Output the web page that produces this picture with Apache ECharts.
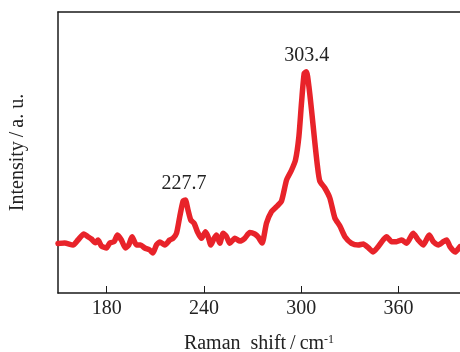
<!DOCTYPE html>
<html><head><meta charset="utf-8">
<script src="https://cdn.jsdelivr.net/npm/echarts@6/dist/echarts.min.js"></script>
<style>html,body{margin:0;padding:0;background:#fff}#c{width:460px;height:352px}</style>
</head><body><div id="c"></div>
<script>
const shift = [150.0,154.1,159.3,162.3,166.0,168.5,170.6,173.1,174.7,176.8,179.9,181.9,184.6,186.7,189.1,191.6,193.6,195.7,198.4,201.0,203.5,206.6,208.6,210.7,212.8,215.9,218.9,221.0,223.1,225.1,227.2,228.6,230.2,231.9,234.0,236.0,238.5,241.0,242.6,244.3,246.3,247.8,249.8,251.9,254.0,256.0,259.1,262.2,265.2,268.3,271.4,273.5,275.9,278.6,281.7,284.8,287.9,291.0,294.1,296.5,298.6,300.2,301.9,303.3,304.8,306.4,308.5,310.1,311.5,314.6,317.7,320.8,323.9,327.0,331.1,335.2,338.3,341.4,344.4,347.5,350.6,352.7,355.8,358.9,362.0,365.1,369.1,372.2,375.3,379.0,381.5,384.6,387.7,389.8,391.8,395.0,398.0];
const intensity = [49.5,50,48,53,59,56.3,54,50.3,53,47,45,50,51.3,58,53,45,48,56.3,48,48,45,43,40,48,51,48,53,54.7,59.7,76.3,92,93,83,73,69.7,61.3,54.7,61.3,56.3,48,54.7,58,49.7,59.7,56.3,49.7,54.7,52,54.7,60.5,59,56,50,69.7,81.3,86.3,92,113,123,133,156.3,189.7,219.7,221.3,206.3,183,149.7,126.3,112,105,95,75,67,56.3,49.7,48,49,45.3,41,46.3,53,56.3,51.3,51.3,53,49.7,59.7,53,48,58,51.3,48,51.3,53,46.3,41,46.3];
const xTicks = [180, 240, 300, 360];
const peaks = [[227.7, 93, '227.7'], [303.4, 221.3, '303.4']];

const chart = echarts.init(document.getElementById('c'));
const serif = 'Liberation Serif';
chart.setOption({
  animation: false,
  grid: {left: 58, top: 12, right: 0, bottom: 59, outerBoundsMode: 'none', containLabel: false},
  xAxis: [{
    type: 'value', min: 150, max: 398, interval: 30,
    axisLine: {show: true, onZero: false, lineStyle: {color: '#1a1a1a', width: 1.5}},
    axisTick: {show: true, inside: true, length: 7, customValues: xTicks, lineStyle: {color: '#1a1a1a', width: 1}},
    axisLabel: {
      margin: 6, fontFamily: serif, fontSize: 20, color: '#222',
      customValues: xTicks
    },
    splitLine: {show: false},
    name: '{a|Raman  shift\u2009/\u2009cm}{s|-1}',
    nameLocation: 'middle', nameGap: 41,
    nameTextStyle: {
      rich: {
        a: {fontFamily: serif, fontSize: 20, color: '#222'},
        s: {fontFamily: serif, fontSize: 12, color: '#222', verticalAlign: 'top', padding: [0, 0, 8, 0]}
      }
    }
  }, {
    type: 'value', position: 'top', min: 150, max: 398,
    axisLine: {show: true, onZero: false, lineStyle: {color: '#1a1a1a', width: 1.5}},
    axisTick: {show: false}, axisLabel: {show: false}, splitLine: {show: false}
  }],
  yAxis: {
    type: 'value', min: 0, max: 281,
    axisLine: {show: true, lineStyle: {color: '#1a1a1a', width: 1.5}},
    axisTick: {show: false}, axisLabel: {show: false}, splitLine: {show: false},
    name: 'Intensity\u2009/\u2009a. u.', nameLocation: 'middle', nameGap: 30,
    nameTextStyle: {fontFamily: serif, fontSize: 20, color: '#222'}
  },
  series: [{
    type: 'line', xAxisIndex: 0,
    data: shift.map((x, i) => [x, intensity[i]]),
    showSymbol: false, smooth: 0.2,
    lineStyle: {color: '#e8232a', width: 5.5, cap: 'round', join: 'round'},
    markPoint: {
      symbol: 'circle', symbolSize: 0,
      label: {show: true, position: 'top', distance: 6, fontFamily: serif, fontSize: 20, color: '#222',
        formatter: p => p.name},
      data: peaks.map(p => ({name: p[2], coord: [p[0], p[1]]}))
    }
  }]
});
</script></body></html>
